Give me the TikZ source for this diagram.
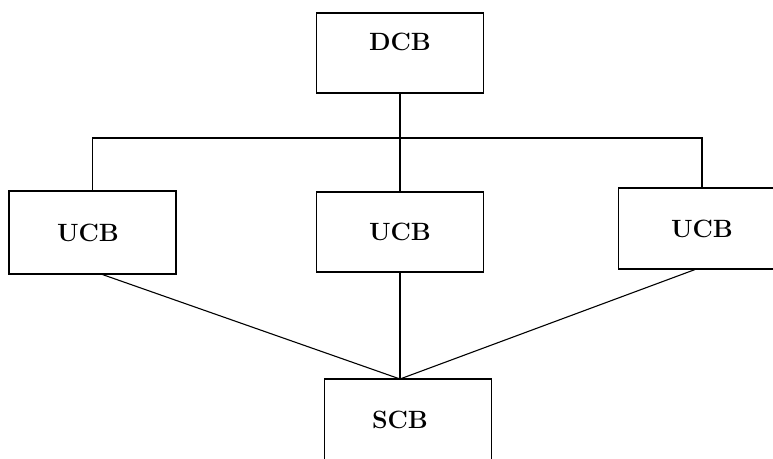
\documentclass[tikz,border=0pt]{standalone}
\usepackage{fontspec}
\begin{document}
\begin{tikzpicture}[x=1pt, y=-1pt, line width=1.1pt,
		blk/.style={draw, minimum width=167pt, minimum height=80pt, inner sep=0pt,
			font=\fontsize{25}{30}\selectfont\bfseries}]
	\useasboundingbox (0,0) rectangle (773,458);
	\clip (0,0) rectangle (773,458);
	% bloques
	\node[blk, text depth=22pt] (dcb) at (400,53) {DCB};
	\node[blk, minimum height=83pt] (ucbl) at (92.5,232.5) {\hspace*{-9pt}UCB};
	\node[blk] (ucbm) at (400,232) {UCB};
	\node[blk, minimum height=81pt] (ucbr) at (702,228.5) {UCB};
	\node[blk, minimum height=82pt] (scb) at (408,420) {\hspace*{-16pt}SCB};
	\coordinate (bus) at (400,138);
	\coordinate (meet) at (400,379);
	% conexiones
	\draw (dcb.south) -- (bus);
	\draw (ucbl.north) |- (bus) -| (ucbr.north);
	\draw (bus) -- (ucbm.north);
	\draw (ucbm.south) -- (meet);
	\draw ([xshift=10pt]ucbl.south) -- (meet);
	\draw ([xshift=-7pt]ucbr.south) -- (meet);
\end{tikzpicture}
\end{document}
